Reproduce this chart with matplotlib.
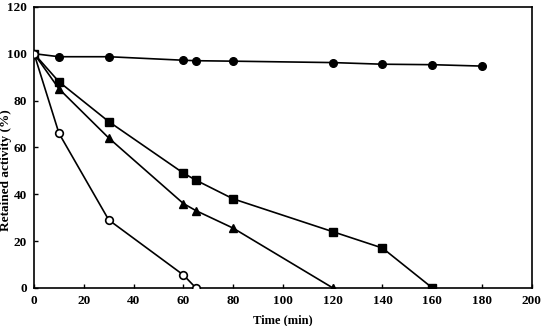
import matplotlib
matplotlib.use("Agg")
import matplotlib.pyplot as plt

# time (min) and retained activity (%) for the four series
t_filled = [0, 10, 30, 60, 65, 80, 120, 140, 160, 180]
act_filled = [100, 98.7, 98.7, 97.2, 97.0, 96.8, 96.2, 95.5, 95.3, 94.7]

t_square = [0, 10, 30, 60, 65, 80, 120, 140, 160]
act_square = [100, 88, 71, 49, 46, 38, 24, 17, 0]

t_tri = [0, 10, 30, 60, 65, 80, 120]
act_tri = [100, 85, 64, 36, 33, 25.5, 0]

t_open = [0, 10, 30, 60, 65]
act_open = [100, 66, 29, 5.5, 0]

xticks = [0, 20, 40, 60, 80, 100, 120, 140, 160, 180, 200]
yticks = [0, 20, 40, 60, 80, 100, 120]

plt.rcParams['font.family'] = ['Liberation Serif', 'DejaVu Serif']
plt.rcParams['font.weight'] = 'bold'

fig = plt.figure(figsize=(5.41, 3.26), dpi=100)
ax = fig.add_axes([0.063, 0.117, 0.92, 0.862])

lw = 1.2
ax.plot(t_filled, act_filled, color='black', lw=lw, marker='o', ms=5.5, zorder=3)
ax.plot(t_square, act_square, color='black', lw=lw, marker='s', ms=5.5, zorder=3)
ax.plot(t_tri, act_tri, color='black', lw=lw, marker='^', ms=6, zorder=3)
ax.plot(t_open, act_open, color='black', lw=lw, marker='o', ms=5.5,
        markerfacecolor='white', markeredgewidth=1.2, zorder=3)

ax.set_xlim(0, 200)
ax.set_ylim(0, 120)
ax.set_xticks(xticks)
ax.set_yticks(yticks)
ax.tick_params(direction='in', length=3, width=1, labelsize=9.5, pad=5)
for lab in ax.get_xticklabels() + ax.get_yticklabels():
    lab.set_fontweight('bold')
for sp in ax.spines.values():
    sp.set_linewidth(1.2)

ax.set_xlabel('Time (min)', fontsize=9, fontweight='bold')
ax.set_ylabel('Retained activity (%)', fontsize=9.5, fontweight='bold')
ax.xaxis.set_label_coords(0.5, -0.093)
ax.yaxis.set_label_coords(-0.045, 0.42)

fig.savefig('out.png', dpi=100)
